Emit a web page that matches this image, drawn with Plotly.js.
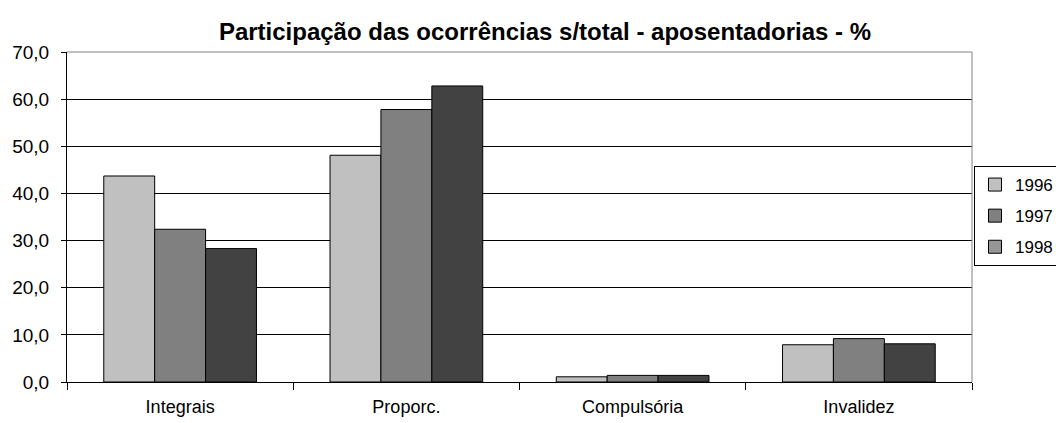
<!DOCTYPE html>
<html>
<head>
<meta charset="utf-8">
<script src="https://cdn.plot.ly/plotly-3.0.1.min.js"></script>
<style>html,body{margin:0;padding:0;background:#fff;}#chart{width:1056px;height:423px;}</style>
</head>
<body>
<div id="chart"></div>
<script>
const categories = ["Integrais", "Proporc.", "Compulsória", "Invalidez"];
const years = ["1996", "1997", "1998"];
const v1996 = [43.7, 48.1, 1.1, 7.9];
const v1997 = [32.4, 57.8, 1.4, 9.2];
const v1998 = [28.3, 62.8, 1.4, 8.1];
const barColors = ["#c0c0c0", "#808080", "#424242"];
const legendColors = ["#c0c0c0", "#808080", "#969696"];
const yTicks = [0, 10, 20, 30, 40, 50, 60, 70];

const series = [v1996, v1997, v1998];
const font = "Liberation Sans, Arial, sans-serif";

const traces = series.map((vals, i) => ({
  type: "bar",
  x: categories,
  y: vals,
  name: years[i],
  showlegend: false,
  marker: {color: barColors[i], line: {color: "#000", width: 1}},
  hoverinfo: "x+y+name"
}));
years.forEach((yr, i) => {
  traces.push({
    type: "scatter",
    mode: "markers",
    x: [null],
    y: [null],
    name: yr,
    legendgroup: "g" + yr,
    showlegend: true,
    marker: {symbol: "square", size: 13, color: legendColors[i], line: {color: "#000", width: 1}}
  });
});

const layout = {
  width: 1056,
  height: 423,
  margin: {l: 67, r: 84, t: 52, b: 41, pad: 0, autoexpand: false},
  paper_bgcolor: "#fff",
  plot_bgcolor: "#fff",
  font: {family: font, size: 18, color: "#000"},
  separators: ",.",
  barmode: "group",
  bargap: 0.325,
  bargroupgap: 0,
  title: {
    text: "<b>Participação das ocorrências s/total - aposentadorias - %</b>",
    font: {family: font, size: 24, color: "#000"},
    x: 545 / 1056, xref: "container", xanchor: "center",
    y: 1 - 32 / 423, yref: "container", yanchor: "middle"
  },
  xaxis: {
    type: "category",
    categoryorder: "array",
    categoryarray: categories,
    showline: true, linecolor: "#000", linewidth: 1,
    ticks: "outside", tickson: "boundaries", ticklen: 7, tickcolor: "#000", tickwidth: 1,
    showgrid: false,
    tickfont: {family: font, size: 18, color: "#000"},
    ticklabelstandoff: 8,
    zeroline: false,
    fixedrange: true
  },
  yaxis: {
    range: [0, 70],
    tickvals: yTicks,
    tickformat: ".1f",
    showline: true, linecolor: "#000", linewidth: 1,
    ticks: "outside", ticklen: 5, tickcolor: "#000", tickwidth: 1,
    showgrid: true, gridcolor: "#000", gridwidth: 1,
    zeroline: false,
    tickfont: {family: font, size: 19, color: "#000"},
    ticklabelstandoff: 8,
    fixedrange: true
  },
  legend: {
    x: 974 / 1056, xanchor: "left", xref: "container",
    y: 1 - 166 / 423, yanchor: "top", yref: "container",
    bgcolor: "#fff", bordercolor: "#000", borderwidth: 1,
    font: {family: font, size: 17, color: "#000"},
    itemwidth: 30,
    traceorder: "grouped",
    tracegroupgap: 6
  },
  shapes: [
    {type: "line", xref: "paper", yref: "paper", x0: 0, x1: 1, y0: 1, y1: 1, line: {color: "#808080", width: 1}, layer: "above"},
    {type: "line", xref: "paper", yref: "paper", x0: 1, x1: 1, y0: 0, y1: 1, line: {color: "#808080", width: 1}, layer: "above"}
  ]
};

Plotly.newPlot("chart", traces, layout, {displayModeBar: false, staticPlot: true});
</script>
</body>
</html>
